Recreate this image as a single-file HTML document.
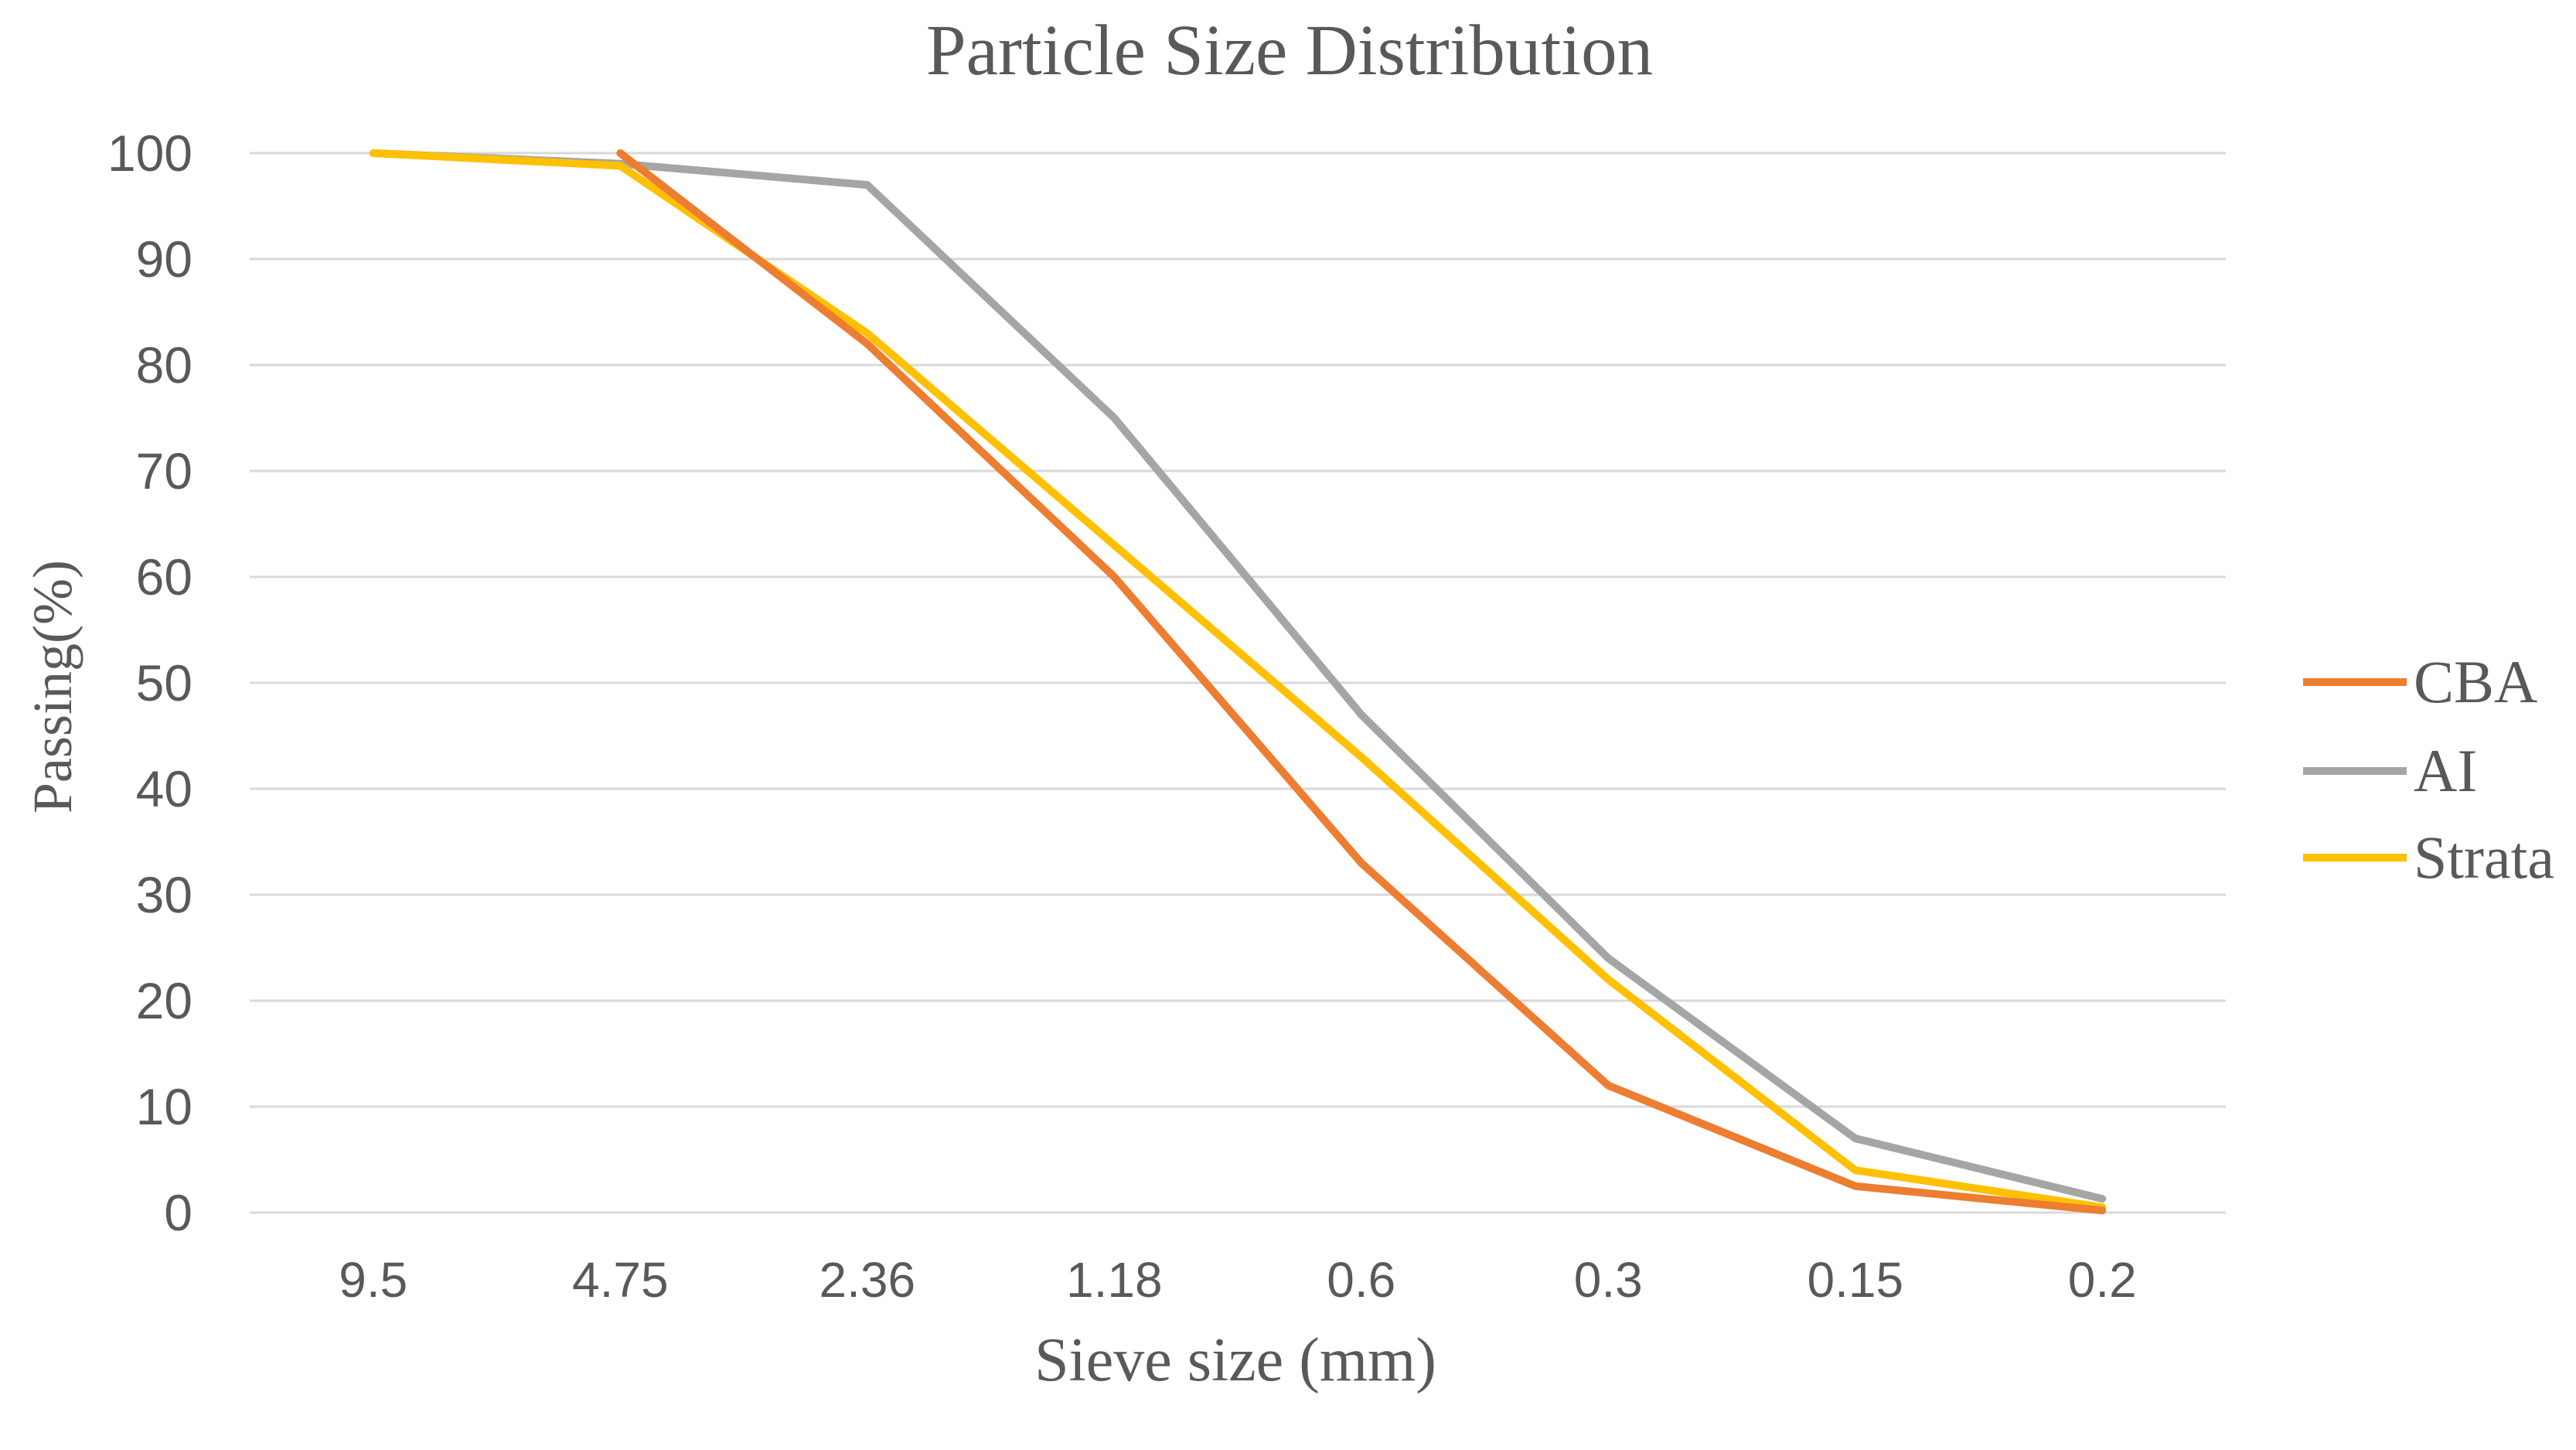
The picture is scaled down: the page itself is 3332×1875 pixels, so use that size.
<!DOCTYPE html>
<html><head><meta charset="utf-8"><style>
html,body{margin:0;padding:0;background:#fff;}
svg{display:block;}
</style></head><body>
<svg id="chart" width="3332" height="1875" viewBox="0 0 3332 1875" xmlns="http://www.w3.org/2000/svg">
<text x="1668" y="96" text-anchor="middle" font-family="Liberation Serif, serif" font-size="93" fill="#595959">Particle Size Distribution</text>
<g id="grid"></g>
<g id="yticks"></g>
<g id="xticks"></g>
<g id="series"></g>
<text x="1598" y="1785" text-anchor="middle" font-family="Liberation Serif, serif" font-size="80" fill="#595959">Sieve size (mm)</text>
<text transform="translate(92,888) rotate(-90)" text-anchor="middle" font-family="Liberation Serif, serif" font-size="72" fill="#595959">Passing(%)</text>
<g id="legend"></g>
</svg>
<script>
const categories = ["9.5","4.75","2.36","1.18","0.6","0.3","0.15","0.2"];
const yTicks = [0,10,20,30,40,50,60,70,80,90,100];
const cbaValues = [null,100,82,60,33,12,2.5,0.2];
const aiValues = [100,99,97,75,47,24,7,1.3];
const strataValues = [100,98.8,83,63,43,22,4,0.5];
const seriesNames = ["CBA","AI","Strata"];
const seriesColors = ["#ED7D31","#A5A5A5","#FFC000"];

const NS="http://www.w3.org/2000/svg";
const L=323,R=2879,T=198,B=1568;
const band=(R-L)/categories.length;
function xPos(i){return L+band*(i+0.5);}
function yPos(v){return B-(v/100)*(B-T);}
function mk(tag,attrs,parent){const e=document.createElementNS(NS,tag);for(const k in attrs)e.setAttribute(k,attrs[k]);parent.appendChild(e);return e;}

const grid=document.getElementById('grid'),yt=document.getElementById('yticks'),xt=document.getElementById('xticks');
yTicks.forEach(v=>{
  const l=mk('line',{x1:L,x2:R,y1:yPos(v),y2:yPos(v),stroke:'#D9D9D9','stroke-width':3},grid);
  
  
  const t=mk('text',{x:249,y:yPos(v)+23,'text-anchor':'end','font-family':'Liberation Sans, sans-serif','font-size':66,fill:'#595959'},yt);
  t.textContent=v;
  
  
});
categories.forEach((c,i)=>{
  const t=mk('text',{x:xPos(i),y:1677,'text-anchor':'middle','font-family':'Liberation Sans, sans-serif','font-size':64,fill:'#595959'},xt);
  t.textContent=c;
  
  
});
const sg=document.getElementById('series');
const order=[1,2,0];
order.forEach(si=>{
  const vals=[cbaValues,aiValues,strataValues][si];
  const pts=[];
  vals.forEach((v,i)=>{if(v!==null)pts.push(xPos(i).toFixed(1)+','+yPos(v).toFixed(1));});
  const p=mk('polyline',{points:pts.join(' '),fill:'none',stroke:seriesColors[si],'stroke-width':10,'stroke-linejoin':'round','stroke-linecap':'round'},sg);
  
  
});
const lg=document.getElementById('legend');
const ly=[882,997,1109];
seriesNames.forEach((n,i)=>{
  const l=mk('line',{x1:2979,x2:3113,y1:ly[i],y2:ly[i],stroke:seriesColors[i],'stroke-width':10},lg);
  
  
  const t=mk('text',{x:3122,y:ly[i]+26,'font-family':'Liberation Serif, serif','font-size':78,fill:'#595959'},lg);
  t.textContent=n;
  
  
});
</script>
</body></html>
